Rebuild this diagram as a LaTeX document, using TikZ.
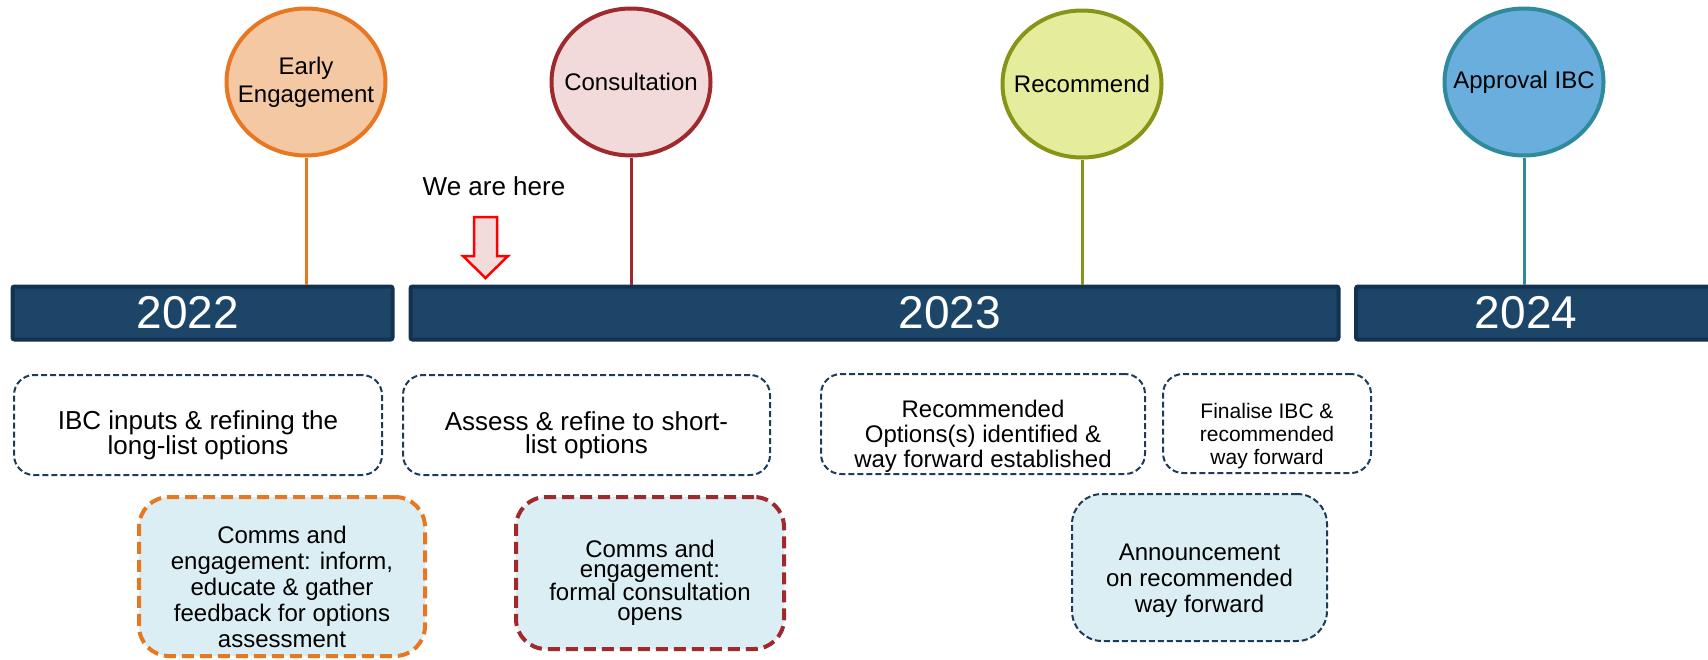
\documentclass[tikz,border=0pt]{standalone}
\usepackage{fontspec}
\setmainfont{Liberation Sans}
\usetikzlibrary{positioning, shapes.geometric}

\definecolor{barblue}{HTML}{1C4568}
\definecolor{barline}{HTML}{13324F}
\definecolor{taskline}{HTML}{1F3B5A}
\definecolor{commsfill}{HTML}{DAEEF3}
\definecolor{earlyline}{HTML}{E87722}
\definecolor{earlyfill}{HTML}{F5C8A4}
\definecolor{consline}{HTML}{A0292E}
\definecolor{consfill}{HTML}{F2D9DA}
\definecolor{recline}{HTML}{889418}
\definecolor{recfill}{HTML}{E5ED9D}
\definecolor{apprline}{HTML}{2F8A9B}
\definecolor{apprfill}{HTML}{6AAEDD}
\definecolor{herefill}{HTML}{F2DCDB}

\begin{document}
\begin{tikzpicture}[
        x=1pt, y=-1pt,
        yearbar/.style={rectangle, draw=barline, fill=barblue, line width=4pt, rounded corners=2pt, minimum height=53pt, inner sep=0pt},
        yeartext/.style={text=white, inner sep=0pt, font=\fontsize{46}{50}\selectfont},
        milestone/.style={ellipse, line width=4pt, minimum width=159pt, minimum height=147pt, inner sep=0pt},
        mtext/.style={align=center, inner sep=0pt, font=\fontsize{24}{28}\selectfont},
        stem/.style={line width=3pt},
        task/.style={rectangle, draw=taskline, rounded corners=20pt, dash pattern=on 6pt off 3pt, line width=2pt},
        comms/.style={rectangle, fill=commsfill, rounded corners=30pt, dash pattern=on 12pt off 6pt, line width=4pt},
        btext/.style={align=center, inner sep=0pt}
      ]
        \useasboundingbox (0,0) rectangle (1708,659);

        % Year bars
        \node[yearbar, minimum width=380pt] (y2022) at (202.5,313) {};
        \node[yearbar, minimum width=928pt] (y2023) at (874.5,313) {};
        \node[yearbar, minimum width=356pt] (y2024) at (1534,313) {};
        \node[yeartext] (t2022) at (188,313) {2022};
        \node[yeartext] (t2023) at (950,313) {2023};
        \node[yeartext] (t2024) at (1526,313) {2024};

        % Milestones
        \node[milestone, draw=earlyline, fill=earlyfill] (early) at (306,82) {};
        \node[milestone, draw=consline, fill=consfill] (consult) at (631,82) {};
        \node[milestone, draw=recline, fill=recfill] (recommend) at (1082,84) {};
        \node[milestone, draw=apprline, fill=apprfill] (approval) at (1524,82) {};
        \node[mtext] (early-t) at (early) {Early\\Engagement};
        \node[mtext] (consult-t) at (consult) {Consultation};
        \node[mtext] (recommend-t) at (recommend) {Recommend};
        \node[mtext] (approval-t) at (approval) {Approval IBC};

        % Stems
        \draw[stem, earlyline] (early) -- (early |- y2022.north);
        \draw[stem, consline] (consult) -- (consult |- y2023.north);
        \draw[stem, recline] (recommend) -- (recommend |- y2023.north);
        \draw[stem, apprline] (approval) -- (approval |- y2024.north);

        % We are here
        \node[font=\fontsize{26}{30}\selectfont] (here) at (494,186) {We are here};
        \draw[red, fill=herefill, line width=2.5pt, line join=miter]
          (474,217) -- (497,217) -- (497,256) -- (508,256) -- (485.5,278) -- (463,256) -- (474,256) -- cycle;

        % Tasks
        \node[task, minimum width=368pt, minimum height=100pt] (longlist) at (198,425) {};
        \node[task, minimum width=367pt, minimum height=100pt] (shortlist) at (586.5,425) {};
        \node[task, minimum width=324pt, minimum height=100pt] (options) at (983,424) {};
        \node[task, minimum width=208pt, minimum height=99pt] (finalise) at (1267,423.5) {};
        \node[btext, font=\fontsize{26}{23}\selectfont] (longlist-t) at ([yshift=-10pt]longlist.center) {IBC inputs \& refining the\\long-list options};
        \node[btext, font=\fontsize{26}{23}\selectfont] (shortlist-t) at ([yshift=-10pt]shortlist.center) {Assess \& refine to short-\\list options};
        \node[btext, font=\fontsize{24}{25}\selectfont] (options-t) at ([yshift=-12pt]options.center) {Recommended\\Options(s) identified \&\\way forward established};
        \node[btext, font=\fontsize{21}{23}\selectfont] (finalise-t) at ([yshift=-13pt]finalise.center) {Finalise IBC \&\\recommended\\way forward};

        % Comms
        \node[comms, draw=earlyline, minimum width=286pt, minimum height=159pt] (inform) at (282,576.5) {};
        \node[comms, draw=consline, minimum width=268pt, minimum height=152pt] (formal) at (650,573) {};
        \node[comms, draw=taskline, line width=2pt, dash pattern=on 6pt off 3pt, minimum width=255pt, minimum height=147pt] (announce) at (1199.5,567.5) {};
        \node[btext, font=\fontsize{24}{26}\selectfont] (inform-t) at ([yshift=-10pt]inform.center) {Comms and\\engagement: inform,\\educate \& gather\\feedback for options\\assessment};
        \node[btext, font=\fontsize{24}{20}\selectfont] (formal-t) at ([yshift=-10pt]formal.center) {Comms and\\engagement:\\formal consultation\\opens};
        \node[btext, font=\fontsize{24}{26}\selectfont] (announce-t) at ([yshift=-13pt]announce.center) {Announcement\\on recommended\\way forward};
      \end{tikzpicture}
\end{document}
